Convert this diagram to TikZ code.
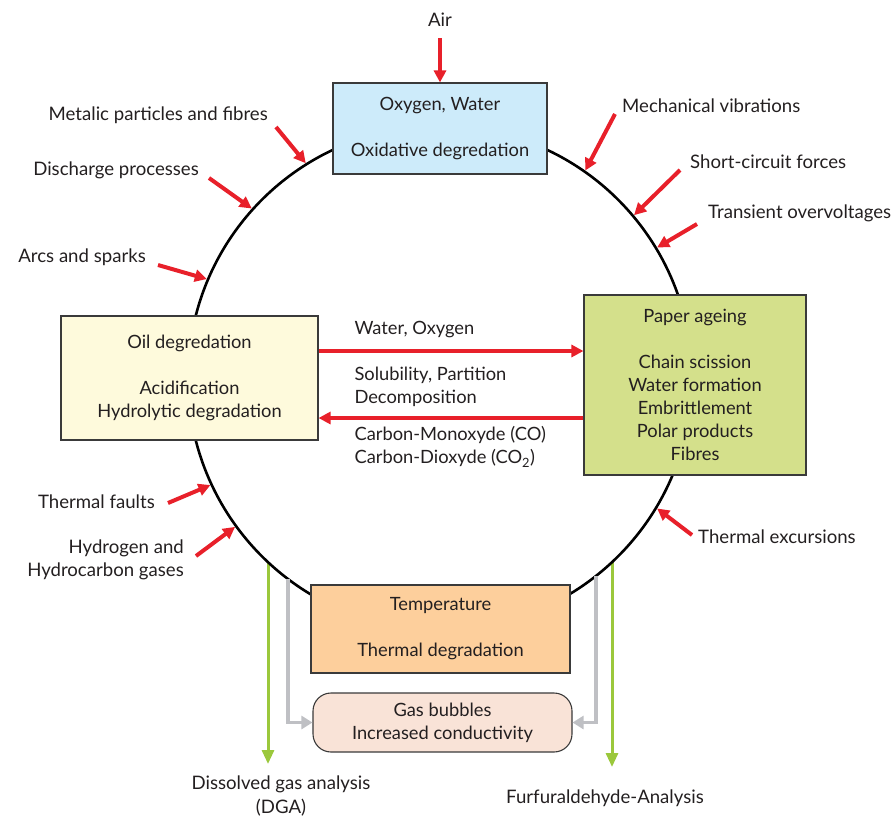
\documentclass[tikz,border=0pt]{standalone}
\usepackage{fontspec}
\setmainfont{Lato}
\usetikzlibrary{arrows.meta,positioning}

\definecolor{redarr}{HTML}{E8202A}
\definecolor{greenarr}{HTML}{9BC83C}
\definecolor{grayarr}{HTML}{BFC0C4}
\definecolor{txtgray}{HTML}{231F20}
\definecolor{boxline}{HTML}{3A3A3A}
\definecolor{oxyfill}{HTML}{CDEBFA}
\definecolor{oilfill}{HTML}{FEFADC}
\definecolor{paperfill}{HTML}{D4E08B}
\definecolor{tempfill}{HTML}{FDCF9C}
\definecolor{gasfill}{HTML}{F9E3D7}

\begin{document}
\begin{tikzpicture}[
  x=1pt, y=-1pt,
  every node/.style={font=\fontsize{18.3}{23}\selectfont, text=txtgray},
  box/.style={rectangle, draw=boxline, line width=1.1pt, align=center, inner sep=0pt},
  cause/.style={inner sep=0pt, font=\fontsize{18.6}{23.5}\selectfont},
  redarrow/.style={-{Triangle[length=12pt,width=12pt]}, line width=4pt, draw=redarr},
  greenarrow/.style={-{Triangle[length=14pt,width=12pt]}, line width=3pt, draw=greenarr},
  grayarrow/.style={-{Triangle[length=11pt,width=13pt]}, line width=3.5pt, draw=grayarr}
]
\useasboundingbox (0,0) rectangle (896,820);

% Analysis outputs
\coordinate (dgaTop) at (268,562);
\coordinate (dgaEnd) at (268,764);
\coordinate (furTop) at (612,562);
\coordinate (furEnd) at (612,767);
\draw[greenarrow] (dgaTop) -- (dgaEnd);
\draw[greenarrow] (furTop) -- (furEnd);
\node[cause, align=center] (dga) at (281,796) {Dissolved gas analysis\\(DGA)};
\node[cause] (fur) at (605,798) {Furfuraldehyde-Analysis};

% Gas bubbles feed
\coordinate (gasL) at (288,579);
\coordinate (gasR) at (596,576);

% Ageing cycle
\node[circle, draw=black, line width=2.6pt, minimum size=504pt, inner sep=0pt] (ring) at (440,378) {};

% Boxes
\node[box, fill=oxyfill, minimum width=214pt, minimum height=91pt] (oxy) at (440,128.5)
  {Oxygen, Water\\[23pt]Oxidative degredation};
\node[box, fill=oilfill, minimum width=257pt, minimum height=124pt] (oil) at (189.5,378)
  {Oil degredation\\[23pt]Acidification\\Hydrolytic degradation};
\node[box, fill=paperfill, minimum width=222pt, minimum height=180pt] (paper) at (695,385)
  {Paper ageing\\[23pt]Chain scission\\Water formation\\Embrittlement\\Polar products\\Fibres};
\node[box, fill=tempfill, minimum width=259pt, minimum height=88pt] (temp) at (440.5,629)
  {Temperature\\[23pt]Thermal degradation};
\node[box, fill=gasfill, rounded corners=18pt, minimum width=259pt, minimum height=59pt] (bubbles) at (442.5,722.5)
  {Gas bubbles\\Increased conductivity};

\draw[grayarrow] (gasL) |- (bubbles.west);
\draw[grayarrow] (gasR) |- (bubbles.east);

% Exchange between oil and paper
\draw[redarrow] ([yshift=27pt]oil.east) -- ([yshift=27pt]oil.east -| paper.west);
\draw[redarrow] ([yshift=-40pt]oil.east -| paper.west) -- ([yshift=-40pt]oil.east);
\node[anchor=west] (wo) at (351,330) {Water, Oxygen};
\node[anchor=west, align=left] (sol) at (351,387) {Solubility, Partition\\Decomposition};
\node[anchor=west, align=left] (co) at (351,447) {Carbon-Monoxyde (CO)\\Carbon-Dioxyde (CO\textsubscript{2})};

% External stresses
\node[cause] (air) at (440,20) {Air};
\coordinate (airTail) at (440,38);
\draw[redarrow] (airTail) -- (oxy.north);

\node[cause, anchor=east] (metal) at (268,115) {Metalic particles and fibres};
\node[cause, anchor=east] (disch) at (199,170) {Discharge processes};
\node[cause, anchor=east] (arcs) at (146,257) {Arcs and sparks};
\node[cause, anchor=east] (tfault) at (155,502) {Thermal faults};
\node[cause, anchor=east, align=right] (hydro) at (184,560) {Hydrogen and\\Hydrocarbon gases};
\node[cause, anchor=west] (mech) at (622,106) {Mechanical vibrations};
\node[cause, anchor=west] (short) at (690,162) {Short-circuit forces};
\node[cause, anchor=west] (trans) at (708,213) {Transient overvoltages};
\node[cause, anchor=west] (texc) at (698,537) {Thermal excursions};

\coordinate (metalTail) at (276,127);
\coordinate (dischTail) at (209,178);
\coordinate (arcsTail) at (158,265);
\coordinate (tfaultTail) at (168,503);
\coordinate (hydroTail) at (196,556);
\coordinate (mechTail) at (615,114);
\coordinate (shortTail) at (680,170);
\coordinate (transTail) at (697,224);
\coordinate (texcTail) at (692,535);

\draw[redarrow] (metalTail) -- (ring.122);
\draw[redarrow] (dischTail) -- (ring.138.4);
\draw[redarrow] (arcsTail) -- (ring.157.2);
\draw[redarrow] (tfaultTail) -- (ring.205.6);
\draw[redarrow] (hydroTail) -- (ring.216.5);
\draw[redarrow] (mechTail) -- (ring.55.7);
\draw[redarrow] (shortTail) -- (ring.40);
\draw[redarrow] (transTail) -- (ring.31);
\draw[redarrow] (texcTail) -- (ring.-31.9);

\end{tikzpicture}
\end{document}
